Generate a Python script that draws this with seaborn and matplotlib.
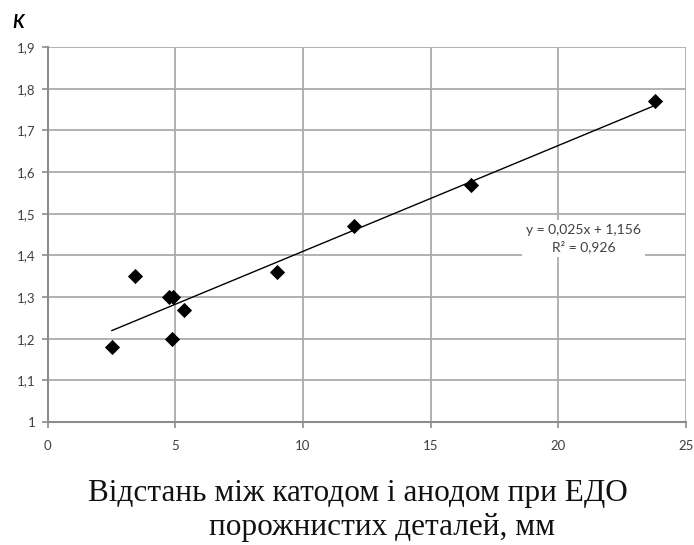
import numpy as np
import pandas as pd
import matplotlib
matplotlib.use("Agg")
import matplotlib.pyplot as plt
import seaborn as sns

# distance between cathode and anode, mm
distance = [2.5, 3.4, 4.75, 4.9, 4.85, 5.35, 9.0, 12.0, 16.6, 23.8]
# coefficient K
k_values = [1.18, 1.35, 1.30, 1.30, 1.20, 1.27, 1.36, 1.47, 1.57, 1.77]

x_ticks = [0, 5, 10, 15, 20, 25]
y_ticks = [1.0, 1.1, 1.2, 1.3, 1.4, 1.5, 1.6, 1.7, 1.8, 1.9]
y_labels = ["1", "1,1", "1,2", "1,3", "1,4", "1,5", "1,6", "1,7", "1,8", "1,9"]

eq_text = "y = 0,025x + 1,156\nR² = 0,926"
x_label_1 = "Відстань між катодом і анодом при ЕДО"
x_label_2 = "порожнистих деталей, мм"

df = pd.DataFrame({"d": distance, "k": k_values})

sns.set_style("white")
plt.rcParams["font.family"] = ["Lato", "DejaVu Sans"]

fig = plt.figure(figsize=(6.94, 5.45), dpi=100)
ax = fig.add_axes([0.069, 0.2257, 0.919, 0.688])

sns.regplot(data=df, x="d", y="k", ci=None, ax=ax, marker="D",
            scatter_kws=dict(s=60, color="black", alpha=1, linewidths=0, zorder=3),
            line_kws=dict(color="black", lw=1.0, zorder=2))

ax.set_xlim(0, 25)
ax.set_ylim(1.0, 1.9)
ax.set_xticks(x_ticks)
ax.set_yticks(y_ticks)
ax.set_yticklabels(y_labels)
ax.set_xlabel("")
ax.set_ylabel("")
ax.grid(True, color="#ababab", lw=1.3)
ax.set_axisbelow(True)
for side in ["top", "right"]:
    ax.spines[side].set_visible(False)
for side in ["left", "bottom"]:
    ax.spines[side].set_color("#8c8c8c")
    ax.spines[side].set_linewidth(1.5)
ax.tick_params(axis="both", length=4, width=1.2, color="#8c8c8c",
               labelsize=9.5, labelcolor="#404040", direction="out",
               bottom=True, left=True)
ax.tick_params(axis="x", pad=9)
ax.tick_params(axis="y", pad=5)

ax.text(21.0, 1.44, eq_text, ha="center", va="center", fontsize=10,
        color="#404040", linespacing=1.4,
        bbox=dict(facecolor="white", edgecolor="none", pad=3), zorder=4)

fig.text(0.026, 0.958, "K", fontsize=13, fontweight="bold", fontstyle="italic",
         ha="center", va="center", color="black")

fig.text(0.515, 0.095, x_label_1, fontsize=22.5, ha="center", va="center",
         family=["Liberation Serif", "DejaVu Serif"], color="#111111")
fig.text(0.55, 0.033, x_label_2, fontsize=22.5, ha="center", va="center",
         family=["Liberation Serif", "DejaVu Serif"], color="#111111")

fig.savefig("out.png", dpi=100)
